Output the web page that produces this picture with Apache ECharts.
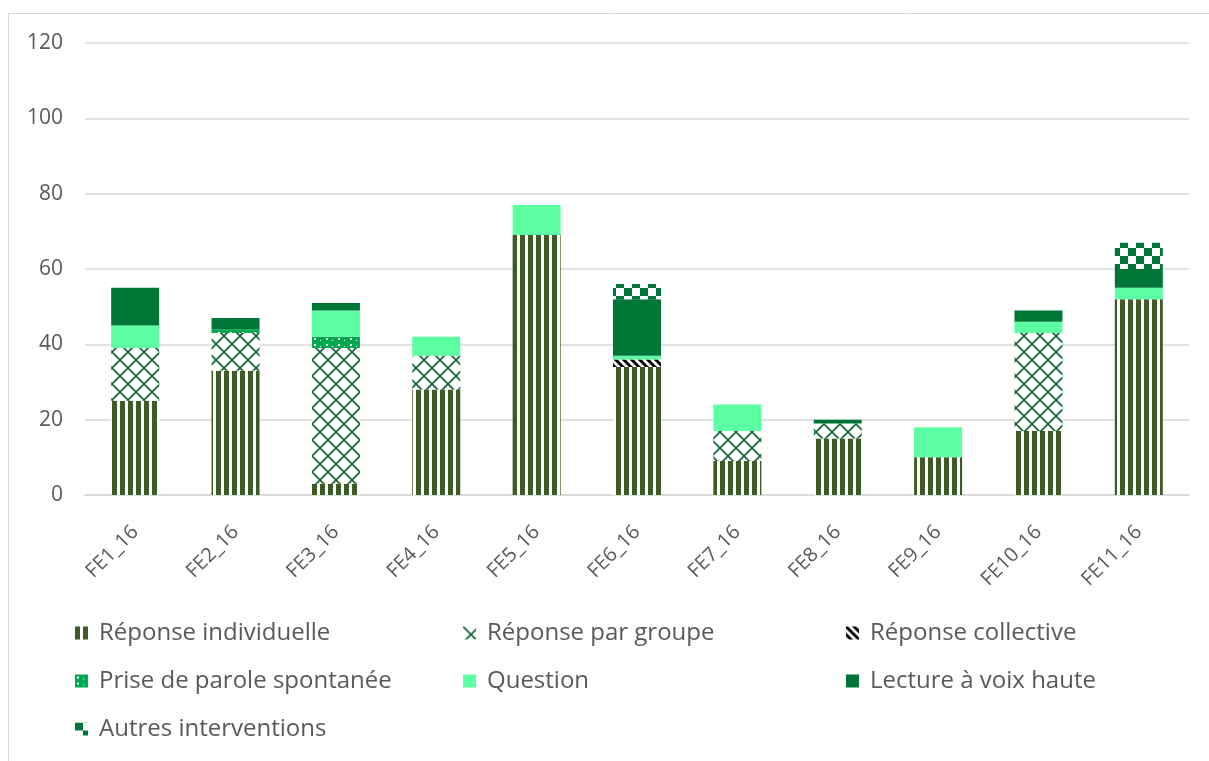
<!DOCTYPE html>
<html>
<head>
<meta charset="utf-8">
<script src="https://cdn.jsdelivr.net/npm/echarts@6/dist/echarts.min.js"></script>
<style>
  html, body { margin: 0; padding: 0; background: #fff; }
  #chart { width: 1209px; height: 761px; }
</style>
</head>
<body>
<div id="chart"></div>
<script>
// Categories and stacked series values
const categories = ['FE1_16', 'FE2_16', 'FE3_16', 'FE4_16', 'FE5_16', 'FE6_16', 'FE7_16', 'FE8_16', 'FE9_16', 'FE10_16', 'FE11_16'];
const reponseIndividuelle = [25, 33, 3, 28, 69, 34, 9, 15, 10, 17, 52];
const reponseParGroupe    = [14, 10, 36, 9, 0, 0, 8, 4, 0, 26, 0];
const reponseCollective   = [0, 0, 0, 0, 0, 2, 0, 0, 0, 0, 0];
const priseDeParole       = [0, 1, 3, 0, 0, 0, 0, 0, 0, 0, 0];
const question            = [6, 0, 7, 5, 8, 1, 7, 0, 8, 3, 3];
const lectureVoixHaute    = [10, 3, 2, 0, 0, 15, 0, 1, 0, 3, 5];
const autresInterventions = [0, 0, 0, 0, 0, 4, 0, 0, 0, 0, 7];
const yTicks = { min: 0, max: 120, interval: 20 };

// Fill patterns drawn on small canvases
function tile(w, h, draw) {
  const c = document.createElement('canvas');
  c.width = w; c.height = h;
  const ctx = c.getContext('2d');
  draw(ctx, w, h);
  return { image: c, repeat: 'repeat' };
}
const patVertical = tile(8, 8, (ctx) => {
  ctx.fillStyle = '#ffffff'; ctx.fillRect(0, 0, 8, 8);
  ctx.fillStyle = '#3d5a27'; ctx.fillRect(0, 0, 5, 8);
});
const patLattice = tile(16, 16, (ctx, w, h) => {
  ctx.fillStyle = '#ffffff'; ctx.fillRect(0, 0, w, h);
  ctx.strokeStyle = '#17693b'; ctx.lineWidth = 1.8;
  ctx.beginPath();
  ctx.moveTo(0, 0); ctx.lineTo(w, h);
  ctx.moveTo(w, 0); ctx.lineTo(0, h);
  ctx.stroke();
});
const patDiagonal = tile(8, 8, (ctx, w, h) => {
  ctx.fillStyle = '#ffffff'; ctx.fillRect(0, 0, w, h);
  ctx.strokeStyle = '#000000'; ctx.lineWidth = 3;
  ctx.beginPath();
  ctx.moveTo(-2, -2); ctx.lineTo(w + 2, h + 2);
  ctx.moveTo(-2, h - 2); ctx.lineTo(2, h + 2);
  ctx.moveTo(w - 2, -2); ctx.lineTo(w + 2, 2);
  ctx.stroke();
});
const patDotted = tile(12, 6, (ctx, w, h) => {
  ctx.fillStyle = '#00a94f'; ctx.fillRect(0, 0, w, h);
  ctx.fillStyle = '#ffffff'; ctx.fillRect(2, 2, 2, 2);
  ctx.fillRect(8, 4, 1, 1);
});
const patChecker = tile(16, 16, (ctx) => {
  ctx.fillStyle = '#ffffff'; ctx.fillRect(0, 0, 16, 16);
  ctx.fillStyle = '#00773a';
  ctx.fillRect(0, 0, 8, 8); ctx.fillRect(8, 8, 8, 8);
});

const FONT = '"Open Sans", "Noto Sans", sans-serif';
const TXT = '#595959';

const seriesDefs = [
  { name: 'Réponse individuelle', data: reponseIndividuelle, color: patVertical },
  { name: 'Réponse par groupe', data: reponseParGroupe, color: patLattice },
  { name: 'Réponse collective', data: reponseCollective, color: patDiagonal },
  { name: 'Prise de parole spontanée', data: priseDeParole, color: patDotted },
  { name: 'Question', data: question, color: '#5cffa2' },
  { name: 'Lecture à voix haute', data: lectureVoixHaute, color: '#007636' },
  { name: 'Autres interventions', data: autresInterventions, color: patChecker }
];

// Legend laid out as a 3-column grid
const legendCols = [75, 463, 846];
const legendRows = [621, 669, 717];
const legends = seriesDefs.map((s, i) => ({
  data: [s.name],
  left: legendCols[i % 3],
  top: legendRows[Math.floor(i / 3)],
  icon: 'rect',
  itemWidth: 13,
  itemHeight: 13,
  itemGap: 0,
  padding: 0,
  selectedMode: false,
  textStyle: { fontFamily: FONT, fontSize: 24, color: TXT, padding: [0, 0, 0, 6] }
}));

const chart = echarts.init(document.getElementById('chart'), null, { renderer: 'canvas' });
chart.setOption({
  animation: false,
  backgroundColor: '#ffffff',
  graphic: [{
    type: 'rect',
    shape: { x: 8.5, y: 13.5, width: 1220, height: 800 },
    style: { fill: 'none', stroke: '#d9d9d9', lineWidth: 1 },
    silent: true
  }],
  legend: legends,
  grid: { left: 85, right: 20, top: 43, bottom: 266, containLabel: false },
  xAxis: {
    type: 'category',
    data: categories,
    axisLine: { lineStyle: { color: '#d9d9d9', width: 1.5 } },
    axisTick: { show: false },
    axisLabel: { rotate: 45, margin: 34, fontFamily: FONT, fontSize: 20, color: TXT }
  },
  yAxis: {
    type: 'value',
    min: yTicks.min, max: yTicks.max, interval: yTicks.interval,
    axisLine: { show: false },
    axisTick: { show: false },
    splitLine: { lineStyle: { color: '#d9d9d9', width: 1.5 } },
    axisLabel: { margin: 22, fontFamily: FONT, fontSize: 21, color: TXT }
  },
  series: seriesDefs.map(s => ({
    name: s.name,
    type: 'bar',
    stack: 'total',
    barWidth: 48,
    data: s.data,
    itemStyle: { color: s.color }
  }))
});
</script>
</body>
</html>
